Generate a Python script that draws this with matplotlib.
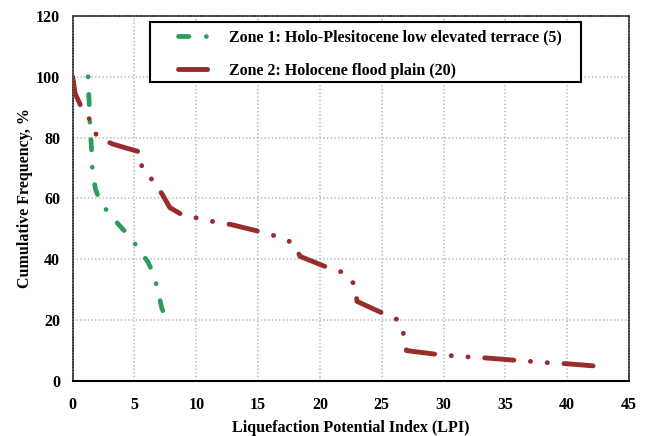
import matplotlib
matplotlib.use('Agg')
import matplotlib.pyplot as plt
from matplotlib.patches import Rectangle
from matplotlib.lines import Line2D

plt.rcParams['font.family'] = ['Liberation Serif', 'DejaVu Serif']
plt.rcParams['font.weight'] = 'bold'
plt.rcParams['axes.labelweight'] = 'bold'
plt.rcParams['lines.scale_dashes'] = False

# --- data ---
zone1_lpi = [1.25, 1.3, 1.35, 1.4, 1.5, 1.55, 1.6, 1.85, 2.2, 2.95, 3.8, 4.6,
             5.4, 6.1, 6.6, 6.9, 7.2, 7.55]
zone1_freq = [100, 94, 90, 84, 78, 74, 69, 63, 59, 55, 51, 47.5,
              43, 39, 34.5, 29.5, 24, 20]

zone2_lpi = [0.0, 0.2, 0.7, 1.45, 1.95, 3.15, 4.2, 5.5, 5.6, 6.45, 7.25, 7.85,
             8.85, 10.2, 11.55, 12.8, 15.3, 16.5, 17.8, 18.4, 20.65, 21.9,
             22.8, 23.0, 25.2, 26.4, 26.8, 27.0, 29.4, 30.7, 32.1, 33.4, 35.9,
             37.2, 38.5, 39.9, 42.4]
zone2_freq = [100, 94.5, 90, 85.5, 80.5, 78, 76.7, 75.2, 70, 66, 61.3, 57,
              54.6, 53.4, 52.2, 51.4, 48.9, 47.5, 45.4, 40.9, 37.2, 35.6,
              31.7, 26.1, 22, 19.9, 14.9, 9.9, 8.7, 8.2, 7.8, 7.5, 6.7,
              6.3, 5.9, 5.6, 4.8]

zone1_label = 'Zone 1: Holo-Plesitocene low elevated terrace (5)'
zone2_label = 'Zone 2: Holocene flood plain (20)'

green = '#2b9e5c'
red = '#992d2b'
fs = 11.5

fig = plt.figure(figsize=(6.46, 4.36), dpi=100)
ax = fig.add_axes([0.1125, 0.1268, 0.8612, 0.8365])

l1, = ax.plot(zone1_lpi, zone1_freq, color=green, lw=3.4,
              dash_capstyle='round', zorder=3)
l1.set_dashes((0.1, 12.5, 7.5, 12.5))
l2, = ax.plot(zone2_lpi, zone2_freq, color=red, lw=3.5,
              dash_capstyle='round', zorder=3)
l2.set_dashes((21, 12, 0.1, 12, 0.1, 12))

ax.set_xlim(0, 45)
ax.set_ylim(0, 120)
ax.set_xticks(range(0, 46, 5))
ax.set_yticks(range(0, 121, 20))
ax.tick_params(length=0, labelsize=fs)
ax.tick_params(axis='x', pad=12)
ax.tick_params(axis='y', pad=9)
ax.grid(True, color='#b5b5b5', linestyle=':', linewidth=1.1)

for side in ['top', 'left', 'right']:
    ax.spines[side].set_linestyle((0, (1.2, 0.8)))
    ax.spines[side].set_color('#333333')
    ax.spines[side].set_linewidth(1.1)
ax.spines['bottom'].set_color('black')
ax.spines['bottom'].set_linewidth(1.5)

ax.set_xlabel('Liquefaction Potential Index (LPI)', fontsize=fs, labelpad=4.5)
ax.set_ylabel('Cumulative Frequency, %', fontsize=fs, labelpad=2)

# legend box drawn by hand to match the padding
box = Rectangle((0.139, 0.819), 0.775, 0.1645, transform=ax.transAxes,
                facecolor='white', edgecolor='black', linewidth=1.5, zorder=4)
ax.add_patch(box)
h1 = Line2D([], [], color=green, lw=3.4, dash_capstyle='round',
            dashes=(7.5, 12.5, 0.1, 12.5))
h2 = Line2D([], [], color=red, lw=3.5, dash_capstyle='round',
            dashes=(21, 12, 0.1, 12, 0.1, 12))
leg = ax.legend([h1, h2], [zone1_label, zone2_label], loc='upper left',
                bbox_to_anchor=(0.189, 0.962), frameon=False,
                fontsize=fs, handlelength=2.2, handletextpad=1.0,
                labelspacing=1.05, borderpad=0, borderaxespad=0)
leg.set_zorder(5)

fig.savefig('out.png', dpi=100)
